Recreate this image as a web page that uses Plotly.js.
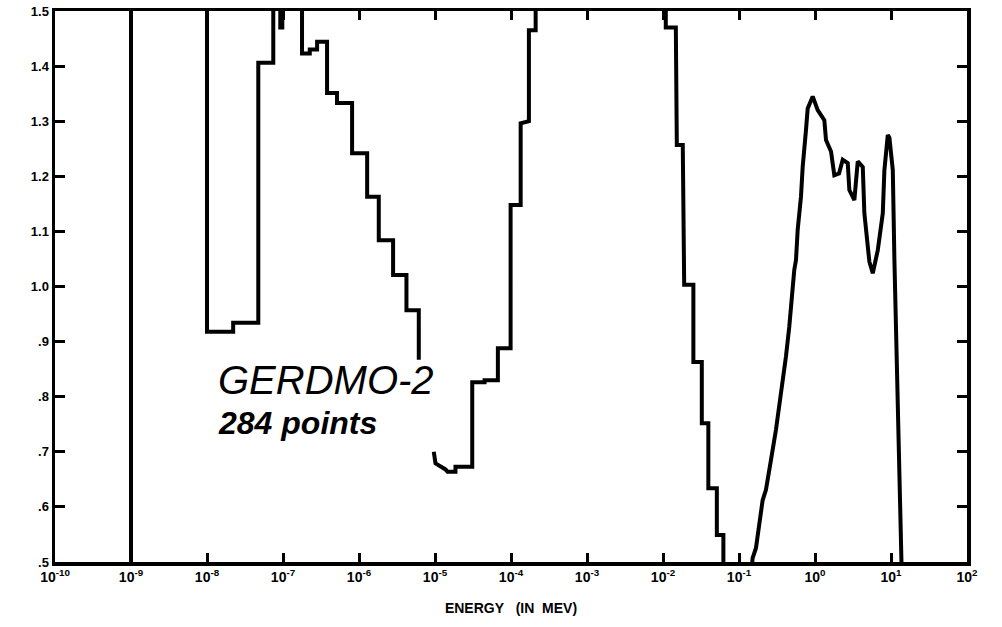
<!DOCTYPE html>
<html>
<head>
<meta charset="utf-8">
<script src="https://cdn.plot.ly/plotly-3.0.1.min.js"></script>
<style>
html,body{margin:0;padding:0;background:#fff;}
#chart{width:1002px;height:627px;}
</style>
</head>
<body>
<div id="chart"></div>
<script>
// Segment 1: 1e-9 .. ~6e-6 MeV (values above 1.5 are off-scale)
const seg1Energy = [1.0e-9, 1.0e-9, 1.0e-8, 1.0e-8, 2.21e-8, 2.21e-8, 4.73e-8, 4.73e-8, 7.45e-8, 7.45e-8,
  9.21e-8, 9.21e-8, 9.79e-8, 9.79e-8, 1.78e-7, 1.78e-7, 2.25e-7, 2.25e-7, 2.81e-7, 2.81e-7,
  3.80e-7, 3.80e-7, 5.14e-7, 5.14e-7, 8.11e-7, 8.11e-7, 1.28e-6, 1.28e-6, 1.82e-6, 1.82e-6,
  2.81e-6, 2.81e-6, 4.21e-6, 4.21e-6, 6.12e-6, 6.12e-6];
const seg1Value = [0.40, 1.60, 1.60, 0.918, 0.918, 0.934, 0.934, 1.406, 1.406, 1.60,
  1.60, 1.47, 1.47, 1.60, 1.60, 1.423, 1.423, 1.430, 1.430, 1.444,
  1.444, 1.351, 1.351, 1.333, 1.333, 1.242, 1.242, 1.163, 1.163, 1.084,
  1.084, 1.021, 1.021, 0.957, 0.957, 0.867];

// Segment 2: ~1e-5 .. ~6e-2 MeV
const seg2Energy = [9.64e-6, 1.015e-5, 1.375e-5, 1.46e-5, 1.86e-5, 1.86e-5, 3.09e-5, 3.09e-5, 4.49e-5, 4.49e-5,
  6.72e-5, 6.72e-5, 9.88e-5, 9.88e-5, 1.34e-4, 1.34e-4, 1.72e-4, 1.72e-4, 2.11e-4, 2.11e-4,
  1.088e-2, 1.088e-2, 1.475e-2, 1.52e-2, 1.82e-2, 1.90e-2, 2.51e-2, 2.51e-2, 3.24e-2, 3.24e-2,
  3.95e-2, 3.95e-2, 5.11e-2, 5.11e-2, 6.23e-2, 6.23e-2];
const seg2Value = [0.700, 0.679, 0.668, 0.664, 0.664, 0.673, 0.673, 0.826, 0.826, 0.830,
  0.830, 0.888, 0.888, 1.148, 1.148, 1.296, 1.300, 1.465, 1.465, 1.60,
  1.60, 1.470, 1.470, 1.257, 1.257, 1.003, 1.003, 0.863, 0.863, 0.752,
  0.752, 0.634, 0.634, 0.549, 0.549, 0.40];

// Segment 3: ~0.14 .. ~14 MeV
const seg3Energy = [0.1435, 0.151, 0.167, 0.1845, 0.2046, 0.2262, 0.250, 0.2633, 0.3064, 0.3386,
  0.3753, 0.4148, 0.4586, 0.4829, 0.5084, 0.5337, 0.5621, 0.5918, 0.6539, 0.6885,
  0.7610, 0.8013, 0.9326, 1.085, 1.326, 1.396, 1.625, 1.796, 2.071, 2.317,
  2.697, 2.831, 3.295, 3.652, 4.251, 4.462, 5.193, 5.756, 6.701, 7.798,
  8.186, 9.074, 9.526, 10.56, 11.09, 12.29, 13.59, 14.0];
const seg3Value = [0.47, 0.507, 0.525, 0.570, 0.612, 0.631, 0.661, 0.685, 0.740, 0.782,
  0.830, 0.873, 0.927, 0.963, 0.994, 1.030, 1.048, 1.103, 1.163, 1.217,
  1.284, 1.323, 1.345, 1.320, 1.302, 1.266, 1.245, 1.202, 1.205, 1.230,
  1.224, 1.175, 1.157, 1.227, 1.217, 1.133, 1.045, 1.024, 1.066, 1.133,
  1.211, 1.275, 1.270, 1.211, 1.048, 0.776, 0.516, 0.45];

const xTickVals = [1e-10, 1e-9, 1e-8, 1e-7, 1e-6, 1e-5, 1e-4, 1e-3, 1e-2, 1e-1, 1e0, 1e1, 1e2];
const xTickText = ['10<sup>-10</sup>', '10<sup>-9</sup>', '10<sup>-8</sup>', '10<sup>-7</sup>', '10<sup>-6</sup>',
  '10<sup>-5</sup>', '10<sup>-4</sup>', '10<sup>-3</sup>', '10<sup>-2</sup>', '10<sup>-1</sup>',
  '10<sup>0</sup>', '10<sup>1</sup>', '10<sup>2</sup>'];
const yTickVals = [0.5, 0.6, 0.7, 0.8, 0.9, 1.0, 1.1, 1.2, 1.3, 1.4, 1.5];
const yTickText = ['.5', '.6', '.7', '.8', '.9', '1.0', '1.1', '1.2', '1.3', '1.4', '1.5'];

const xTitle = 'ENERGY&nbsp;&nbsp;&nbsp;(IN&nbsp;&nbsp;MEV)';
const labelName = 'GERDMO-2';
const labelPoints = '284 points';

const xs = seg1Energy.concat([null], seg2Energy, [null], seg3Energy);
const ys = seg1Value.concat([null], seg2Value, [null], seg3Value);

const trace = {
  x: xs, y: ys, type: 'scatter', mode: 'lines',
  connectgaps: false,
  line: {color: '#000', width: 4},
  hoverinfo: 'skip'
};

const fam = 'Liberation Sans, Arial, sans-serif';

const layout = {
  width: 1002, height: 627,
  margin: {l: 55, r: 35, t: 11, b: 65},
  paper_bgcolor: '#fff', plot_bgcolor: '#fff',
  showlegend: false,
  xaxis: {
    type: 'log', range: [-10, 2],
    tickmode: 'array', tickvals: xTickVals, ticktext: xTickText,
    ticks: 'inside', ticklen: 9, tickwidth: 3, tickcolor: '#000',
    showline: true, linewidth: 3.5, linecolor: '#000', mirror: 'ticks',
    showgrid: false, zeroline: false,
    tickfont: {family: fam, size: 14, color: '#000', weight: 'bold'},
    title: {text: xTitle, standoff: 20,
      font: {family: fam, size: 14, color: '#000', weight: 'bold'}}
  },
  yaxis: {
    range: [0.5, 1.5],
    tickmode: 'array', tickvals: yTickVals, ticktext: yTickText,
    ticks: 'inside', ticklen: 10, tickwidth: 3, tickcolor: '#000',
    showline: true, linewidth: 3.5, linecolor: '#000', mirror: 'ticks',
    showgrid: false, zeroline: false,
    tickfont: {family: fam, size: 13, color: '#000', weight: 'bold'}
  },
  annotations: [
    {text: labelName, xref: 'paper', yref: 'paper', x: 0.176, y: 0.330,
     xanchor: 'left', yanchor: 'middle', showarrow: false,
     font: {family: fam, size: 40, color: '#000', style: 'italic'}},
    {text: labelPoints, xref: 'paper', yref: 'paper', x: 0.177, y: 0.252,
     xanchor: 'left', yanchor: 'middle', showarrow: false,
     font: {family: fam, size: 32, color: '#000', style: 'italic', weight: 'bold'}}
  ]
};

Plotly.newPlot('chart', [trace], layout, {staticPlot: true, displayModeBar: false});
</script>
</body>
</html>
